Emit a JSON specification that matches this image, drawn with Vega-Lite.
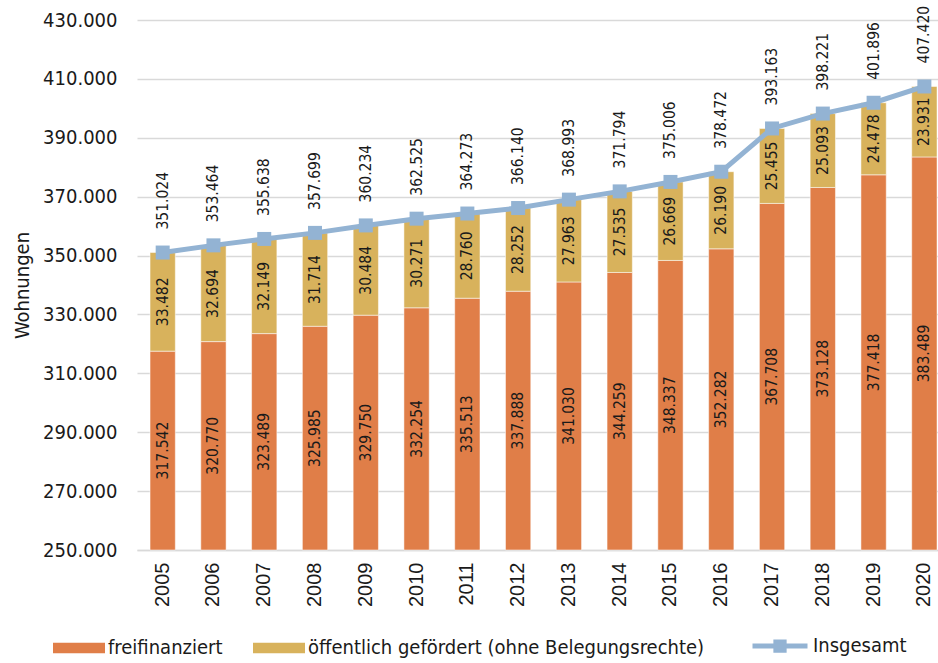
{
  "$schema": "https://vega.github.io/schema/vega-lite/v6.json",
  "width": 801,
  "height": 530,
  "autosize": {"type": "none"},
  "padding": {"left": 137, "top": 20, "right": 0, "bottom": 113},
  "background": "white",
  "config": {
    "locale": {"number": {"decimal": ",", "thousands": ".", "grouping": [3], "currency": ["", " €"]}},
    "view": {"stroke": null},
    "axisY": {
      "format": ",d",
      "grid": true,
      "gridColor": "#d9d9d9",
      "gridWidth": 1.5,
      "domain": false,
      "ticks": false,
      "labelPadding": 20,
      "labelFont": "DejaVu Sans Condensed",
      "labelFontSize": 20,
      "labelColor": "#1a1a1a",
      "titleFont": "DejaVu Sans Condensed",
      "titleFontSize": 20,
      "titleFontWeight": "normal",
      "titleColor": "#1a1a1a",
      "titlePadding": 10
    },
    "axisX": {
      "labelAngle": -90,
      "labelFont": "Liberation Sans",
      "labelFontSize": 20,
      "labelColor": "#1a1a1a",
      "labelPadding": 12,
      "ticks": false,
      "grid": false,
      "domainColor": "#d9d9d9",
      "domainWidth": 1.5
    },
    "legend": {
      "orient": "none",
      "direction": "horizontal",
      "title": null,
      "padding": 0,
      "labelFont": "DejaVu Sans Condensed",
      "labelFontSize": 20,
      "labelColor": "#1a1a1a",
      "labelOffset": 3,
      "labelLimit": 600,
      "columnPadding": 30,
      "symbolOpacity": 1
    }
  },
  "data": {
    "values": [
      {"year": "2005", "frei": 317542, "oeff": 33482, "total": 351024},
      {"year": "2006", "frei": 320770, "oeff": 32694, "total": 353464},
      {"year": "2007", "frei": 323489, "oeff": 32149, "total": 355638},
      {"year": "2008", "frei": 325985, "oeff": 31714, "total": 357699},
      {"year": "2009", "frei": 329750, "oeff": 30484, "total": 360234},
      {"year": "2010", "frei": 332254, "oeff": 30271, "total": 362525},
      {"year": "2011", "frei": 335513, "oeff": 28760, "total": 364273},
      {"year": "2012", "frei": 337888, "oeff": 28252, "total": 366140},
      {"year": "2013", "frei": 341030, "oeff": 27963, "total": 368993},
      {"year": "2014", "frei": 344259, "oeff": 27535, "total": 371794},
      {"year": "2015", "frei": 348337, "oeff": 26669, "total": 375006},
      {"year": "2016", "frei": 352282, "oeff": 26190, "total": 378472},
      {"year": "2017", "frei": 367708, "oeff": 25455, "total": 393163},
      {"year": "2018", "frei": 373128, "oeff": 25093, "total": 398221},
      {"year": "2019", "frei": 377418, "oeff": 24478, "total": 401896},
      {"year": "2020", "frei": 383489, "oeff": 23931, "total": 407420}
    ]
  },
  "transform": [
    {"calculate": "(250000 + datum.frei) / 2", "as": "frei_mid"},
    {"calculate": "(datum.frei + datum.total) / 2", "as": "oeff_mid"}
  ],
  "encoding": {
    "x": {
      "field": "year",
      "type": "ordinal",
      "title": null,
      "scale": {"paddingInner": 0.502, "paddingOuter": 0.138, "align": 0.93}
    }
  },
  "layer": [
    {
      "mark": {"type": "bar", "stroke": "white", "strokeOpacity": 0.5, "strokeWidth": 1},
      "encoding": {
        "y": {
          "field": "frei", "type": "quantitative", "title": "Wohnungen",
          "scale": {"domain": [250000, 430000], "nice": false, "zero": false},
          "axis": {"values": [250000, 270000, 290000, 310000, 330000, 350000, 370000, 390000, 410000, 430000]}
        },
        "y2": {"datum": 250000},
        "color": {
          "datum": "freifinanziert",
          "scale": {
            "domain": ["freifinanziert", "öffentlich gefördert (ohne Belegungsrechte)"],
            "range": ["#e07e48", "#d8b25c"]
          },
          "legend": {
            "legendX": -84,
            "legendY": 602,
            "symbolType": "M-1,-0.2H1V0.2H-1Z",
            "symbolSize": 2704,
            "symbolStrokeWidth": 0
          }
        }
      }
    },
    {
      "mark": {"type": "bar", "stroke": "white", "strokeOpacity": 0.5, "strokeWidth": 1},
      "encoding": {
        "y": {"field": "total", "type": "quantitative", "title": "Wohnungen"},
        "y2": {"field": "frei"},
        "color": {"datum": "öffentlich gefördert (ohne Belegungsrechte)"}
      }
    },
    {
      "mark": {"type": "text", "angle": 270, "align": "center", "baseline": "middle",
               "font": "DejaVu Sans Condensed", "fontSize": 15.5, "color": "#1a1a1a"},
      "encoding": {
        "y": {"field": "frei_mid", "type": "quantitative", "title": "Wohnungen"},
        "text": {"field": "frei", "type": "quantitative", "format": ",d"}
      }
    },
    {
      "mark": {"type": "text", "angle": 270, "align": "center", "baseline": "middle",
               "font": "DejaVu Sans Condensed", "fontSize": 15.5, "color": "#1a1a1a"},
      "encoding": {
        "y": {"field": "oeff_mid", "type": "quantitative", "title": "Wohnungen"},
        "text": {"field": "oeff", "type": "quantitative", "format": ",d"}
      }
    },
    {
      "mark": {"type": "line", "strokeWidth": 5,
               "point": {"shape": "square", "size": 196, "filled": true, "fill": "#93b3d3", "strokeWidth": 0, "opacity": 1}},
      "encoding": {
        "y": {"field": "total", "type": "quantitative", "title": "Wohnungen"},
        "stroke": {
          "datum": "Insgesamt",
          "scale": {"domain": ["Insgesamt"], "range": ["#93b3d3"]},
          "legend": {
            "legendX": 613,
            "legendY": 596,
            "symbolType": "M-1,0H1M-0.15,-0.15H0.15V0.15H-0.15Z",
            "symbolSize": 3025,
            "symbolStrokeWidth": 5,
            "symbolFillColor": "#93b3d3"
          }
        }
      }
    },
    {
      "mark": {"type": "text", "angle": 270, "align": "left", "baseline": "middle", "dx": 23,
               "font": "DejaVu Sans Condensed", "fontSize": 15.5, "color": "#1a1a1a"},
      "encoding": {
        "y": {"field": "total", "type": "quantitative", "title": "Wohnungen"},
        "text": {"field": "total", "type": "quantitative", "format": ",d"}
      }
    }
  ]
}
